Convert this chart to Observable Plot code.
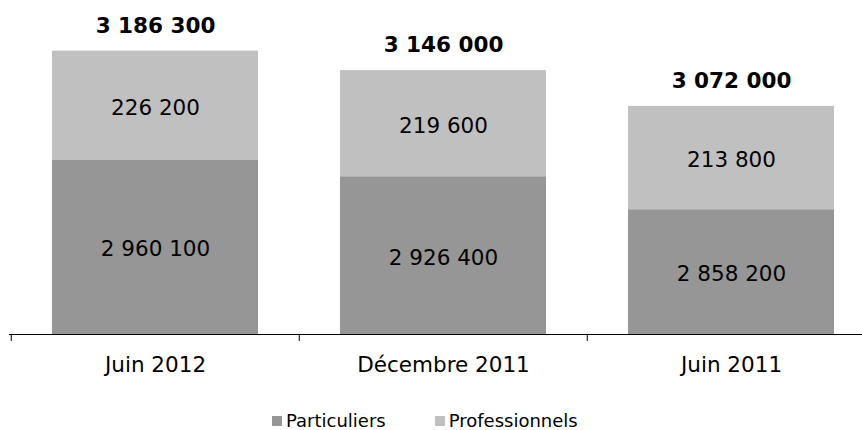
<!DOCTYPE html>
<html>
<head>
<meta charset="utf-8">
<script src="https://cdn.jsdelivr.net/npm/d3@7"></script>
<script src="https://cdn.jsdelivr.net/npm/@observablehq/plot@0.6"></script>
<style>
  html, body { margin: 0; padding: 0; background: #fff; }
  #chart { width: 862px; }
  .legend { display: flex; justify-content: flex-start; align-items: center; height: 24px; font-family: "DejaVu Sans", Verdana, sans-serif; font-size: 18px; color: #000; padding-left: 272px; }
  .legend .item { display: flex; align-items: center; }
  .legend .sw { width: 10px; height: 10px; display: inline-block; margin-right: 4px; margin-top: 2px; }
</style>
</head>
<body>
<div id="chart"></div>
<script>
const periods = ["Juin 2012", "Décembre 2011", "Juin 2011"];
const particuliers = [2960100, 2926400, 2858200];
const professionnels = [226200, 219600, 213800];
const seriesNames = ["Particuliers", "Professionnels"];
const seriesColors = ["#969696", "#C0C0C0"];
const yMin = 2600000, yMax = 3200000;

const loc = d3.formatLocale({decimal: ",", thousands: " ", grouping: [3], currency: ["", " €"]});
const fmt = loc.format(",d");

const rows = [];
periods.forEach((p, i) => {
  rows.push({period: p, series: seriesNames[0], y1: yMin, y2: particuliers[i], v: particuliers[i]});
  rows.push({period: p, series: seriesNames[1], y1: particuliers[i], y2: particuliers[i] + professionnels[i], v: professionnels[i]});
});
const totals = periods.map((p, i) => ({period: p, total: particuliers[i] + professionnels[i]}));

const W = 862, H = 408;
const xRange = [10, 875.5];
const step = (xRange[1] - xRange[0]) / periods.length;
const pad = 0.286;

const chart = Plot.plot({
  width: W,
  height: H,
  marginTop: 44,
  marginBottom: H - 334,
  marginLeft: 9,
  marginRight: 0,
  style: {fontFamily: "'DejaVu Sans', Verdana, sans-serif", fontSize: "21.5px", color: "#000", background: "#fff"},
  x: {domain: periods, range: xRange, paddingInner: pad, paddingOuter: pad / 2, label: null},
  y: {domain: [yMin, yMax], axis: null},
  color: {domain: seriesNames, range: seriesColors},
  marks: [
    Plot.rectY(rows, {x: "period", y1: "y1", y2: "y2", fill: "series"}),
    Plot.text(rows, {x: "period", y: d => (d.y1 + d.y2) / 2, text: d => fmt(d.v), fill: "#000", dy: 2, lineAnchor: "middle"}),
    Plot.text(totals, {x: "period", y: "total", text: d => fmt(d.total), fill: "#000", fontWeight: "bold", dy: -25, lineAnchor: "middle"}),
    Plot.ruleY([yMin], {stroke: "#000", strokeWidth: 1}),
    Plot.axisX({tickSize: 7, tickFormat: () => "", dx: -step / 2, stroke: "#000"}),
    Plot.axisX({tickSize: 0, tickPadding: 22, fill: "#000", fontSize: "21.5px"})
  ]
});
document.getElementById("chart").appendChild(chart);

const legend = document.createElement("div");
legend.className = "legend";
seriesNames.forEach((n, i) => {
  const it = document.createElement("span");
  it.className = "item";
  if (i > 0) it.style.marginLeft = "49px";
  const sw = document.createElement("span");
  sw.className = "sw";
  sw.style.background = seriesColors[i];
  it.appendChild(sw);
  it.appendChild(document.createTextNode(n));
  legend.appendChild(it);
});
document.body.appendChild(legend);
</script>
</body>
</html>
